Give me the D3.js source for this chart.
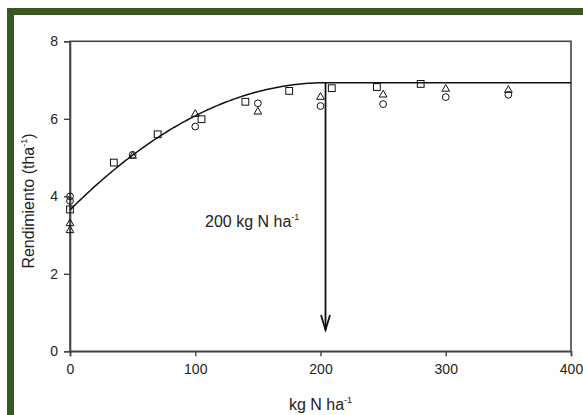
<!DOCTYPE html>
<html>
<head>
<meta charset="utf-8">
<script src="https://cdn.jsdelivr.net/npm/d3@7"></script>
<style>
  html, body { margin: 0; padding: 0; background: #fff; }
  svg { display: block; font-family: "Liberation Sans", Arial, sans-serif; }
</style>
</head>
<body>
<svg id="chart" width="583" height="415"></svg>
<script>
// Yield response to nitrogen: observed points by series
const circleN = [0, 0, 50, 100, 150, 200, 250, 300, 350];
const circleY = [4.0, 3.88, 5.07, 5.8, 6.4, 6.33, 6.38, 6.56, 6.62];
const triangleN = [0, 0, 50, 100, 150, 200, 250, 300, 350];
const triangleY = [3.3, 3.12, 5.04, 6.12, 6.18, 6.56, 6.62, 6.77, 6.74];
const squareN = [0, 35, 70, 105, 140, 175, 209, 245, 280];
const squareY = [3.66, 4.87, 5.6, 5.99, 6.44, 6.72, 6.79, 6.82, 6.9];

// Quadratic-plateau fit: intercept, plateau level, and join point (N rate)
const fitIntercept = 3.65;
const fitPlateau = 6.93;
const fitJoin = 204;
const arrowLabel = "200 kg N ha";

const xTicks = [0, 100, 200, 300, 400];
const yTicks = [0, 2, 4, 6, 8];

const svg = d3.select("#chart");
const W = 583, H = 415;
const m = { left: 70, right: 571, top: 41.3, bottom: 351.3 };

// frame border
const green = "#38561f";
svg.append("rect").attr("x", 7).attr("y", 8).attr("width", W - 7).attr("height", 7).attr("fill", green);
svg.append("rect").attr("x", 7).attr("y", 8).attr("width", 7).attr("height", H - 8).attr("fill", green);

const x = d3.scaleLinear().domain([0, 400]).range([m.left, m.right]);
const y = d3.scaleLinear().domain([0, 8]).range([m.bottom, m.top]);

const ink = "#222";
const axisCol = "#444";

// plot box
svg.append("rect")
  .attr("x", m.left).attr("y", m.top)
  .attr("width", m.right - m.left).attr("height", m.bottom - m.top)
  .attr("fill", "none").attr("stroke", axisCol).attr("stroke-width", 1.6);

const xAxis = svg.append("g").attr("transform", `translate(0,${m.bottom})`)
  .call(d3.axisBottom(x).tickValues(xTicks).tickSize(5).tickPadding(8).tickFormat(d3.format("d")));
const yAxis = svg.append("g").attr("transform", `translate(${m.left},0)`)
  .call(d3.axisLeft(y).tickValues(yTicks).tickSize(6).tickPadding(6).tickFormat(d3.format("d")));
[xAxis, yAxis].forEach(g => {
  g.select(".domain").attr("stroke", axisCol).attr("stroke-width", 1.6);
  g.selectAll(".tick line").attr("stroke", axisCol).attr("stroke-width", 1.4);
  g.selectAll(".tick text").attr("fill", ink).style("font-size", "14px")
    .style("font-family", "'Liberation Sans', Arial, sans-serif");
});

// fitted curve
const c = -(fitPlateau - fitIntercept) / (fitJoin * fitJoin);
const b = -2 * c * fitJoin;
const fit = n => n < fitJoin ? fitIntercept + b * n + c * n * n : fitPlateau;
const curveN = d3.range(0, 401, 2);
svg.append("path")
  .datum(curveN)
  .attr("fill", "none").attr("stroke", "#111").attr("stroke-width", 1.5)
  .attr("d", d3.line().x(n => x(n)).y(n => y(fit(n))));

// markers
const pts = g => g.attr("fill", "none").attr("stroke", "#111").attr("stroke-width", 1);
circleN.forEach((n, i) => {
  svg.append("circle").attr("cx", x(n)).attr("cy", y(circleY[i])).attr("r", 3.4).call(pts);
});
const tri = d3.symbol().type(d3.symbolTriangle).size(26);
triangleN.forEach((n, i) => {
  svg.append("path").attr("d", tri()).attr("transform", `translate(${x(n)},${y(triangleY[i])})`).call(pts);
});
squareN.forEach((n, i) => {
  svg.append("rect").attr("x", x(n) - 3.4).attr("y", y(squareY[i]) - 3.4)
    .attr("width", 6.8).attr("height", 6.8).call(pts);
});

// arrow from the join point down toward the axis
const ax = x(fitJoin);
const tipY = y(0.55);
svg.append("line").attr("x1", ax).attr("x2", ax).attr("y1", y(fitPlateau)).attr("y2", tipY)
  .attr("stroke", "#111").attr("stroke-width", 1.8);
svg.append("path")
  .attr("d", `M${ax - 4.5},${tipY - 15} L${ax},${tipY} L${ax + 4.5},${tipY - 15}`)
  .attr("fill", "none").attr("stroke", "#111").attr("stroke-width", 1.8);

// annotation text
const ann = svg.append("text").attr("x", 205).attr("y", 226.5)
  .attr("fill", ink).style("font-size", "16px");
ann.append("tspan").text(arrowLabel);
ann.append("tspan").attr("dy", -7).style("font-size", "9px").text("-1");

// axis titles
const xt = svg.append("text").attr("x", (m.left + m.right) / 2).attr("y", 410)
  .attr("text-anchor", "middle").attr("fill", ink).style("font-size", "16px");
xt.append("tspan").text("kg N ha");
xt.append("tspan").attr("dy", -7).style("font-size", "9px").text("-1");

const yt = svg.append("text")
  .attr("transform", `translate(33.5,201) rotate(-90)`)
  .attr("text-anchor", "middle").attr("fill", ink).style("font-size", "16px");
yt.append("tspan").text("Rendimiento (tha");
yt.append("tspan").attr("dy", -7).style("font-size", "9px").text("-1");
yt.append("tspan").attr("dy", 7).text(")");
</script>
</body>
</html>
